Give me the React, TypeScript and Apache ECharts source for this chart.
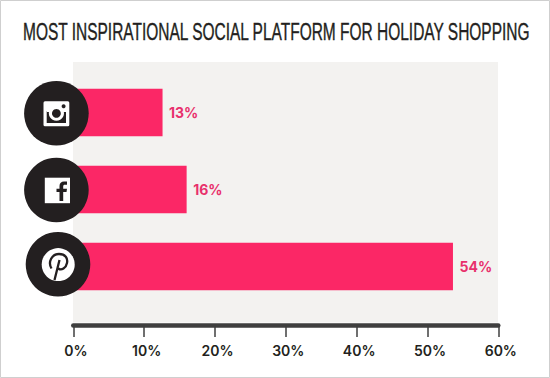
import React, { useEffect, useRef } from "react";
import * as echarts from "echarts";

const titleText = "MOST INSPIRATIONAL SOCIAL PLATFORM FOR HOLIDAY SHOPPING";
const categories = ["Instagram", "Facebook", "Pinterest"];
const barValues = [12.6, 16, 53.6];
const barLabels = ["13%", "16%", "54%"];
const xTicks = [0, 10, 20, 30, 40, 50, 60];

const PINK = "#fb2766";
const LABEL_PINK = "#e8306c";
const DARK = "#231f20";

echarts.graphic.registerShape(
  "fbF",
  echarts.graphic.extendPath(
    "M59.5 201V192H56.5V188.7H59.5V186C59.5 183 61.3 181.5 64 181.5H67V184.7H65C63.6 184.7 63.2 185.3 63.2 186.5V188.7H67L66.5 192H63.2V201Z",
    {}
  )
);
echarts.graphic.registerShape(
  "pinP",
  echarts.graphic.extendPath(
    "M51.5 268.5C47.5 262 52 254 59 254C65.5 254 68 258.5 67 263C66 268 61.5 271 58.3 268.5M59.5 260L54.5 280",
    {}
  )
);

export default function App() {
  const ref = useRef<HTMLDivElement>(null);
  useEffect(() => {
    document.body.style.margin = "0";
    const chart = echarts.init(ref.current!, undefined, { renderer: "svg" });
    chart.setOption({
      animation: false,
      backgroundColor: "#ffffff",
      grid: { left: 73.3, top: 74, width: 425, height: 231 },
      xAxis: {
        type: "value",
        min: 0,
        max: 60,
        interval: 10,
        offset: 20,
        splitLine: { show: false },
        axisLine: { show: true, lineStyle: { color: "#3f3f3f", width: 4.5 } },
        axisTick: { show: true, length: 12, lineStyle: { color: "#3f3f3f", width: 1.5 } },
        axisLabel: {
          margin: 18,
          padding: [0, 0, 0, 5],
          fontFamily: "Inter, sans-serif",
          fontWeight: 600,
          fontSize: 14,
          color: DARK,
          customValues: xTicks,
          formatter: (v: number) => `${v}%`,
        },
      },
      yAxis: {
        type: "category",
        inverse: true,
        data: categories,
        axisLine: { show: false },
        axisTick: { show: false },
        axisLabel: { show: false },
      },
      series: [
        {
          type: "bar",
          data: barValues,
          barWidth: 47.5,
          itemStyle: { color: PINK },
          label: {
            show: true,
            position: "right",
            distance: 6.5,
            fontFamily: "Inter, sans-serif",
            fontWeight: 700,
            fontSize: 14,
            color: LABEL_PINK,
            formatter: (p: any) => barLabels[p.dataIndex],
          },
        },
      ],
      graphic: [
        {
          type: "text",
          z: 5,
          x: 23,
          y: 31.5,
          scaleX: 0.632,
          style: {
            text: titleText,
            fontFamily: "'Liberation Sans', sans-serif",
            fontSize: 24.5,
            fill: DARK,
            stroke: DARK,
            lineWidth: 0.4,
            verticalAlign: "middle",
          },
        },
        { type: "rect", z: -1, shape: { x: 73, y: 62, width: 425, height: 260.5 }, style: { fill: "#f3f2f0" } },
        { type: "rect", z: 20, shape: { x: 0.5, y: 0.5, width: 549, height: 377 }, style: { fill: "none", stroke: "#cfcfcf", lineWidth: 1 } },

        { type: "circle", z: 10, shape: { cx: 56.4, cy: 113.3, r: 32.3 }, style: { fill: DARK } },
        { type: "rect", z: 11, shape: { x: 43.5, y: 101.3, width: 25.8, height: 25, r: 1.5 }, style: { fill: "#fff" } },
        { type: "rect", z: 12, shape: { x: 46.7, y: 111, width: 19.3, height: 12 }, style: { fill: DARK } },
        { type: "circle", z: 13, shape: { cx: 56.4, cy: 113.2, r: 7.6 }, style: { fill: "#fff" } },
        { type: "rect", z: 13, shape: { x: 46.7, y: 109, width: 19.3, height: 3 }, style: { fill: "#fff" } },
        { type: "circle", z: 14, shape: { cx: 56.4, cy: 113.4, r: 4.4 }, style: { fill: DARK } },
        { type: "circle", z: 14, shape: { cx: 63.6, cy: 106.3, r: 2 }, style: { fill: DARK } },

        { type: "circle", z: 10, shape: { cx: 56.4, cy: 190, r: 32.3 }, style: { fill: DARK } },
        { type: "rect", z: 11, shape: { x: 44.8, y: 177.7, width: 25.2, height: 25.5 }, style: { fill: "#fff" } },
        { type: "fbF", z: 12, style: { fill: DARK } },

        { type: "circle", z: 10, shape: { cx: 58, cy: 264.3, r: 32.3 }, style: { fill: DARK } },
        { type: "circle", z: 11, shape: { cx: 58.2, cy: 264.6, r: 16.5 }, style: { fill: "#fff" } },
        { type: "pinP", z: 12, style: { fill: "none", stroke: DARK, lineWidth: 2.3 } },
      ],
    });
    return () => chart.dispose();
  }, []);
  return <div ref={ref} style={{ width: 550, height: 378 }} />;
}
